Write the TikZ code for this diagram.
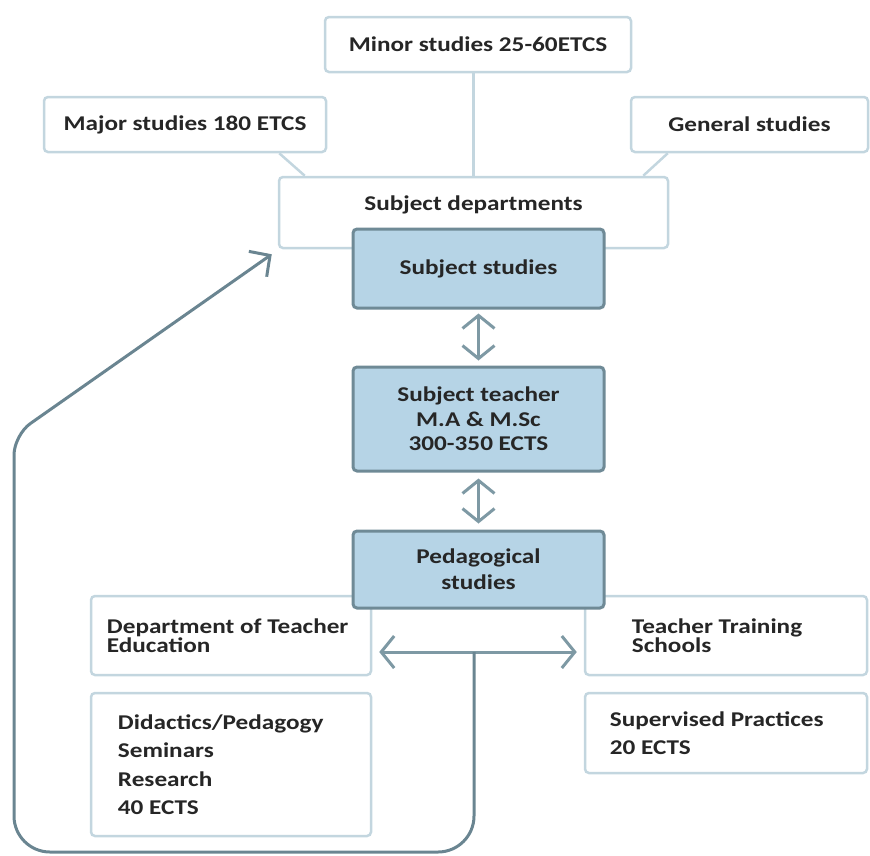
\documentclass[tikz,border=0pt]{standalone}
\usepackage{fontspec}
\setmainfont{Carlito}[FakeStretch=1.2]
\usepackage{tikz}
\usetikzlibrary{calc}
\usetikzlibrary{arrows.meta}

\definecolor{boxline}{HTML}{C3D6DF}
\definecolor{darkfill}{HTML}{B6D4E6}
\definecolor{darkline}{HTML}{6F8A96}
\definecolor{arrowcol}{HTML}{7E99A4}
\definecolor{loopcol}{HTML}{6A8591}
\definecolor{txtcol}{HTML}{262626}

\begin{document}
\begin{tikzpicture}[x=1pt, y=-1pt,
		lightbox/.style={draw=boxline, line width=2.5pt, fill=white, rounded corners=4pt, inner sep=0pt},
		darkbox/.style={draw=darkline, line width=3pt, fill=darkfill, rounded corners=4pt, minimum width=251pt, align=center, text=txtcol, font=\bfseries\fontsize{21}{24.5}\selectfont},
		txt/.style={text=txtcol, align=left, inner sep=0pt, font=\bfseries\fontsize{21}{21}\selectfont},
		link/.style={draw=boxline, line width=2.5pt},
		dbl/.style={draw=arrowcol, line width=3pt, {Straight Barb[length=13pt,width=32pt]}-{Straight Barb[length=13pt,width=32pt]}},
		loopline/.style={draw=loopcol, line width=3pt, -{Straight Barb[length=15pt,width=31pt]}}]
			
			\useasboundingbox (0,0) rectangle (870,855);
			
			% top row
			\node[lightbox, txt, minimum width=306pt, minimum height=55pt] (minor) at (478,44.5) {Minor studies 25-60ETCS};
			\node[lightbox, txt, minimum width=282pt, minimum height=55pt] (major) at (185,124.5) {Major studies 180 ETCS};
			\node[lightbox, txt, minimum width=237pt, minimum height=55pt] (general) at (749.5,124.5) {General studies};
			
			\node[lightbox, minimum width=389pt, minimum height=71pt] (dept) at (473.5,212.5) {};
			\node[txt] (deptlbl) at ([yshift=7.5pt]dept.center) {Subject departments};
			
			\draw[link] (minor.south -| dept.north) -- (dept.north);
			\draw[link] ([xshift=-48pt]major.south east) -- ([xshift=27pt]dept.north west);
			\draw[link] ([xshift=38pt]general.south west) -- ([xshift=-26pt]dept.north east);
			
			% middle column
			\node[darkbox, minimum height=79pt] (subj) at (478.5,268.5) {Subject studies};
			\node[darkbox, minimum height=104pt] (teacher) at (478.5,419) {Subject teacher\\M.A \& M.Sc\\300-350 ECTS};
			
			% bottom boxes
			\node[lightbox, minimum width=280pt, minimum height=79pt] (dte) at (231,635.5) {};
			\node[txt, anchor=west, font=\bfseries\fontsize{21}{19}\selectfont] (dtelbl) at ([xshift=17pt]dte.west) {Department of Teacher\\Education};
			\node[lightbox, minimum width=280pt, minimum height=143pt] (didac) at (231,764.5) {};
			\node[txt, anchor=west, font=\bfseries\fontsize{21}{28.5}\selectfont] (didaclbl) at ([xshift=28pt]didac.west) {Didactics/Pedagogy\\Seminars\\Research\\40 ECTS};
			\node[lightbox, minimum width=282pt, minimum height=79pt] (tts) at (726,635.5) {};
			\node[txt, anchor=west, font=\bfseries\fontsize{21}{19}\selectfont] (ttslbl) at ([xshift=48pt]tts.west) {Teacher Training\\Schools};
			\node[lightbox, minimum width=282pt, minimum height=80pt] (superv) at (726,733) {};
			\node[txt, anchor=west, font=\bfseries\fontsize{21}{28}\selectfont] (supervlbl) at ([xshift=26pt]superv.west) {Supervised Practices\\20 ECTS};
			
			\node[darkbox, minimum height=77pt, font=\bfseries\fontsize{21}{26}\selectfont] (peda) at (478.5,569.5) {Pedagogical\\studies};
			
			% arrows
			\draw[dbl, shorten <=4pt, shorten >=5pt] (subj) -- (teacher);
			\draw[dbl, shorten <=6pt, shorten >=6pt] (teacher) -- (peda);
			\draw[dbl] ($(dte.east)+(7,16.5)$) -- ($(tts.west)+(-7,16.5)$);
			
			\coordinate (hub) at ($(dte.east)!.5!(tts.west)+(-4,16.5)$);
			\draw[loopline] (hub) [rounded corners=36pt] -- (hub |- 0,852) -- (14,852) [rounded corners=20pt] -- (14,435) -- ([xshift=-6pt,yshift=-5pt]dept.south west);
			
	\end{tikzpicture}
\end{document}
